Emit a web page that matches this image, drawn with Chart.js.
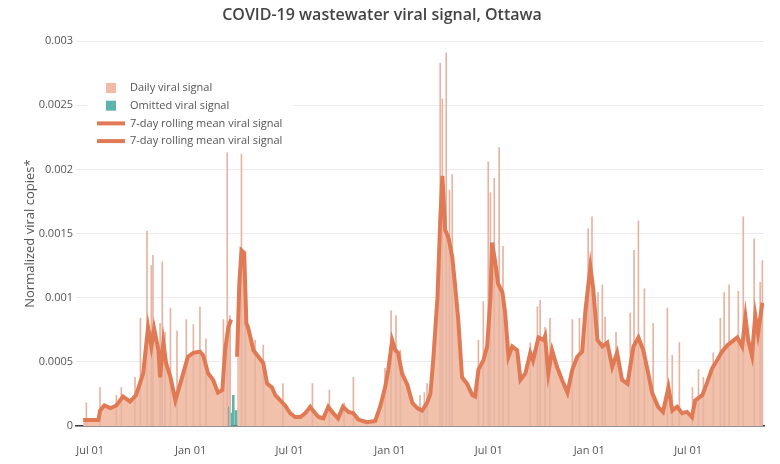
<!DOCTYPE html>
<html>
<head>
<meta charset="utf-8">
<script src="https://cdn.jsdelivr.net/npm/chart.js@4.4.1/dist/chart.umd.min.js"></script>
<style>
  html, body { margin: 0; padding: 0; background: #fff; }
</style>
</head>
<body>
<canvas id="chart" width="780" height="464"></canvas>
<script>
// x values are days counted from 2020-07-01
const tickDays = [0, 184, 365, 549, 730, 914, 1095];
const tickLabels = ["Jul 01", "Jan 01", "Jul 01", "Jan 01", "Jul 01", "Jan 01", "Jul 01"];

// 7-day rolling mean, before the omitted period
const meanDays1 = [-13, 15, 18, 26, 37, 48, 60, 73, 84, 97, 106, 112, 117, 125, 128, 134, 139, 147, 156, 165,
  179, 189, 201, 207, 216, 225, 234, 242, 247, 253, 258];
const meanValues1 = [0.000047, 0.000047, 0.00012, 0.00016, 0.00014, 0.00016, 0.00023, 0.00019, 0.00024, 0.00041,
  0.00077, 0.00062, 0.00076, 0.00059, 0.00038, 0.00065, 0.00049, 0.00038, 0.0002, 0.00033,
  0.00054, 0.00057, 0.00058, 0.00055, 0.00041, 0.00036, 0.00026, 0.00028, 0.00059, 0.00077, 0.00083];

// 7-day rolling mean, after the omitted period
const meanDays2 = [269, 273, 277, 282, 286, 289, 299, 308, 317, 324,
  333, 339, 348, 357, 366, 375, 385, 394, 403, 408,
  418, 427, 436, 445, 454, 463, 473, 482, 491, 507,
  522, 531, 540, 546, 553, 559, 564, 571, 581, 590,
  599, 608, 617, 623, 628, 636, 641, 645, 648, 650,
  656, 663, 668, 674, 681, 690, 700, 705, 711, 720,
  727, 733, 736, 742, 747, 755, 760, 766, 773, 782,
  788, 797, 806, 811, 821, 830, 833, 839, 846, 855,
  864, 874, 883, 892, 901, 907, 916, 921, 929, 938,
  947, 956, 965, 974, 984, 995, 1004, 1013, 1022, 1029,
  1040, 1049, 1059, 1066, 1075, 1084, 1093, 1102, 1108, 1121,
  1130, 1139, 1148, 1157, 1167, 1176, 1185, 1194, 1200, 1205,
  1212, 1218, 1223, 1231];
const meanValues2 = [0.00054, 0.0011, 0.00137, 0.00135, 0.0008, 0.00077, 0.00059, 0.00054, 0.00049, 0.00033,
  0.0003, 0.00024, 0.0002, 0.00016, 0.0001, 0.00007, 0.00007, 0.0001, 0.00015, 0.00012,
  0.00007, 0.00006, 0.00015, 0.0001, 0.00006, 0.00015, 0.00011, 0.0001, 0.00005, 0.00003,
  0.00004, 0.00015, 0.0003, 0.00044, 0.00067, 0.00059, 0.00057, 0.00041, 0.00032, 0.00018,
  0.00014, 0.00012, 0.00018, 0.00025, 0.0005, 0.001, 0.0016, 0.00195, 0.0017, 0.00153,
  0.00147, 0.00132, 0.00111, 0.00083, 0.00038, 0.00033, 0.00024, 0.00023, 0.00044, 0.00051,
  0.00062, 0.001, 0.00143, 0.00127, 0.00111, 0.00104, 0.00088, 0.00054, 0.00062, 0.00059,
  0.00036, 0.00041, 0.00057, 0.00051, 0.00069, 0.00067, 0.0007, 0.00041, 0.00059, 0.00046,
  0.00036, 0.00026, 0.00044, 0.00054, 0.00058, 0.0009, 0.00124, 0.00108, 0.00067, 0.00062,
  0.00065, 0.00046, 0.00057, 0.00036, 0.00033, 0.00062, 0.00069, 0.00059, 0.00041, 0.00026,
  0.00015, 0.00011, 0.0003, 0.00012, 0.00015, 0.0001, 0.00011, 0.00007, 0.0002, 0.00024,
  0.00034, 0.00045, 0.00051, 0.00058, 0.00063, 0.00066, 0.00069, 0.00062, 0.00085, 0.00067,
  0.00055, 0.00086, 0.00072, 0.00096];

// daily readings that stand out above the rolling mean
const dailyDays = [-7, 18, 48, 57, 82, 92, 104, 112, 115, 128, 132, 137, 147, 159, 176, 189, 201, 212, 244, 251,
  256, 277, 284, 302, 317, 353, 407, 438, 465, 482, 540, 551, 560, 568, 604, 612, 617, 641, 645, 652,
  658, 663, 711, 720, 729, 733, 740, 749, 756, 766, 806, 819, 824, 833, 842, 883, 896, 912, 919, 930,
  938, 943, 963, 989, 996, 1004, 1015, 1031, 1057, 1066, 1079, 1103, 1114, 1123, 1141, 1154, 1161, 1170, 1187, 1196,
  1216, 1227, 1231];
const dailyValues = [0.00018, 0.0003, 0.00024, 0.0003, 0.00038, 0.00084, 0.00152, 0.00125, 0.00133, 0.0008,
  0.00128, 0.00073, 0.00092, 0.00074, 0.00083, 0.00079, 0.00093, 0.00068, 0.00083, 0.00213,
  0.00086, 0.00212, 0.0008, 0.00067, 0.00063, 0.00033, 0.00033, 0.00028, 0.00018, 0.00038,
  0.00045, 0.0009, 0.00086, 0.00059, 0.00024, 0.00026, 0.00033, 0.00283, 0.00255, 0.00291,
  0.00184, 0.00196, 0.00067, 0.00097, 0.00206, 0.00182, 0.00193, 0.00217, 0.0014, 0.00069,
  0.00065, 0.00093, 0.00098, 0.00077, 0.00084, 0.00083, 0.00084, 0.00154, 0.00163, 0.00104,
  0.0011, 0.00085, 0.00073, 0.00088, 0.00137, 0.0016, 0.00107, 0.0008, 0.00092, 0.00055,
  0.00065, 0.0003, 0.00044, 0.00038, 0.00057, 0.00084, 0.00104, 0.0011, 0.00105, 0.00163,
  0.00146, 0.00112, 0.00129];

// omitted readings (spring 2021)
const omittedDays = [253, 258, 262, 267];
const omittedValues = [0.00015, 0.0001, 0.00024, 0.00012];

function points(xs, ys) {
  return xs.map((x, i) => ({ x: x, y: ys[i] }));
}

const FONT = '"Open Sans", sans-serif';
const lineColor = "#e07a55";
const fillColor = "#f2c1ac";

// legend drawn inside the plot, top left, on a white box
const insideLegend = {
  id: "insideLegend",
  afterDraw(chart) {
    const ctx = chart.ctx;
    const left = chart.chartArea.left;
    ctx.save();
    ctx.fillStyle = "#fff";
    ctx.fillRect(left + 11, 76, 206, 75);
    ctx.font = "11px " + FONT;
    ctx.textBaseline = "middle";
    chart.data.datasets.forEach((ds, i) => {
      const y = 88 + i * 17.7;
      if (ds.type === "bar") {
        ctx.fillStyle = ds.legendColor || ds.backgroundColor;
        ctx.fillRect(left + 30, y - 5, 10, 10);
      } else {
        ctx.strokeStyle = ds.borderColor;
        ctx.lineWidth = 4;
        ctx.beginPath();
        ctx.moveTo(left + 21, y);
        ctx.lineTo(left + 49, y);
        ctx.stroke();
      }
      ctx.fillStyle = "#555";
      ctx.fillText(ds.label, left + 54, y);
    });
    ctx.restore();
  }
};

new Chart(document.getElementById("chart"), {
  type: "line",
  data: {
    datasets: [
      { type: "bar", label: "Daily viral signal", data: points(dailyDays, dailyValues),
        backgroundColor: "#e6b4a2", legendColor: "#f0bba7", barThickness: 1, grouped: false, order: 3 },
      { type: "bar", label: "Omitted viral signal", data: points(omittedDays, omittedValues),
        backgroundColor: "#5fb3ad", barThickness: 2, grouped: false, order: 3 },
      { type: "line", label: "7-day rolling mean viral signal", data: points(meanDays1, meanValues1),
        borderColor: lineColor, backgroundColor: fillColor, borderWidth: 4, fill: "origin",
        pointRadius: 0, tension: 0, order: 1 },
      { type: "line", label: "7-day rolling mean viral signal", data: points(meanDays2, meanValues2),
        borderColor: lineColor, backgroundColor: fillColor, borderWidth: 4, fill: "origin",
        pointRadius: 0, tension: 0, order: 1 }
    ]
  },
  options: {
    responsive: false,
    animation: false,
    layout: { padding: { left: 0, right: 16, top: 0, bottom: 0 } },
    plugins: {
      legend: { display: false },
      tooltip: { enabled: false },
      filler: { drawTime: "beforeDatasetsDraw" },
      title: {
        display: true,
        text: "COVID-19 wastewater viral signal, Ottawa",
        color: "#444",
        font: { family: FONT, size: 16, weight: "600" },
        padding: { top: 6, bottom: 16 }
      }
    },
    scales: {
      x: {
        type: "linear",
        min: -26,
        max: 1234,
        offset: false,
        grid: { display: false },
        border: { display: true, color: "#3a3a3a", width: 1.5 },
        afterBuildTicks: (scale) => { scale.ticks = tickDays.map(v => ({ value: v })); },
        afterFit: (scale) => { scale.height = 38; },
        ticks: {
          autoSkip: false,
          maxRotation: 0,
          padding: 10,
          color: "#555",
          font: { family: FONT, size: 11 },
          callback: (v, i) => tickLabels[i]
        }
      },
      y: {
        min: 0,
        max: 0.003,
        grid: { color: "#ebebeb", drawTicks: false },
        border: { display: false },
        afterFit: (scale) => { scale.width = 76; },
        ticks: {
          stepSize: 0.0005,
          padding: 3,
          color: "#555",
          font: { family: FONT, size: 11 },
          callback: (v) => String(+v.toFixed(4))
        },
        title: {
          display: true,
          text: "Normalized viral copies*",
          color: "#555",
          font: { family: FONT, size: 13 },
          padding: { top: 22, bottom: 0 }
        }
      }
    }
  },
  plugins: [insideLegend]
});
</script>
</body>
</html>
